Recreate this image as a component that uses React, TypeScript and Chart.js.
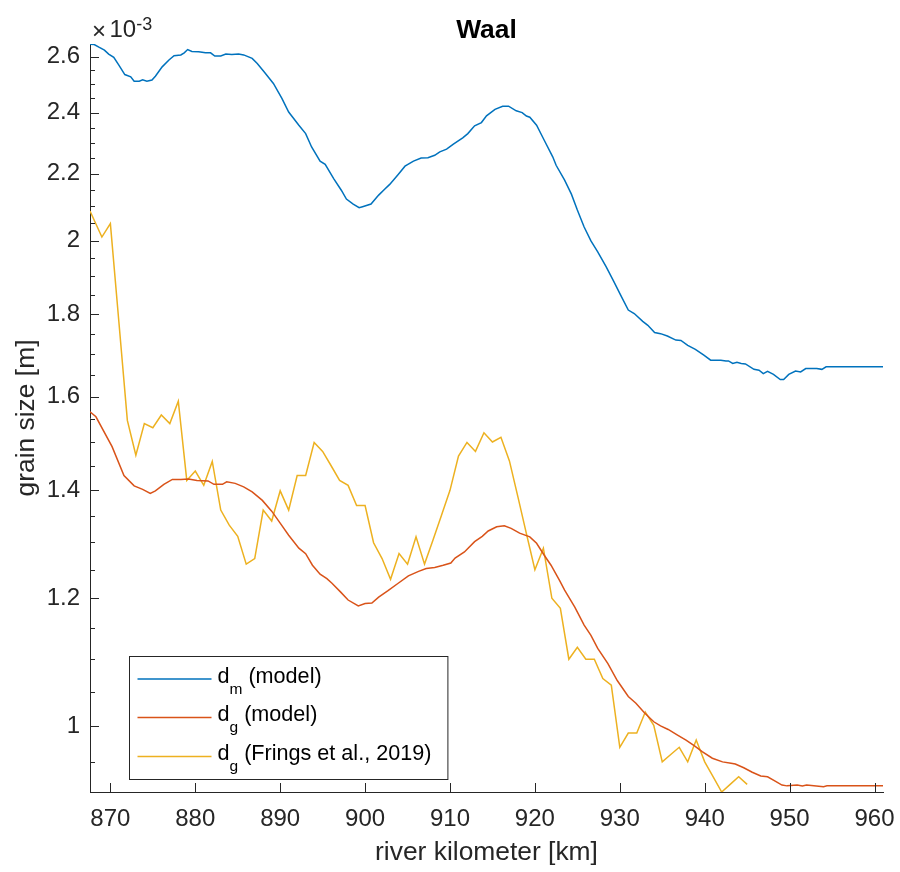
import { useEffect, useRef } from 'react';
import { Chart, registerables } from 'chart.js';

Chart.register(...registerables);

const FONT = '"Liberation Sans", Arial, Helvetica, sans-serif';
const TEXT = '#262626';
const AXIS = '#262626';
const BLUE = '#0072BD';
const RED = '#D95319';
const YELLOW = '#EDB120';

// x axis (river kilometer)
const xTicks = [870, 880, 890, 900, 910, 920, 930, 940, 950, 960];
const xMin = 867.6;
const xMax = 961;

// y axis (grain size, ×10^-3 m), logarithmic
const yMajorTicks = [1, 1.2, 1.4, 1.6, 1.8, 2, 2.2, 2.4, 2.6];
const yTickLabels = ['1', '1.2', '1.4', '1.6', '1.8', '2', '2.2', '2.4', '2.6'];
const yMinorTicks = [0.95, 1.05, 1.1, 1.15, 1.25, 1.3, 1.35, 1.45, 1.5, 1.55, 1.65, 1.7, 1.75, 1.85, 1.9, 1.95, 2.05, 2.1, 2.15, 2.25, 2.3, 2.35, 2.45, 2.5, 2.55];
const yMin = 0.91;
const yMax = 2.648;

// d_m (model)
const dmKm = [867.6, 868.1, 868.7, 869.3, 869.8, 870.4, 871.0, 871.7, 872.4, 872.8, 873.4, 873.8, 874.3, 874.9, 875.3, 876.1, 876.9, 877.5, 878.3, 878.7, 879.1, 879.6, 880.4, 881.2, 881.8, 882.3, 883.0, 883.6, 884.3, 885.1, 885.7, 886.7, 887.3, 888.1, 889.2, 890.2, 891.0, 892.2, 893.0, 893.7, 894.7, 895.3, 896.3, 897.2, 897.8, 898.6, 899.3, 899.7, 900.7, 901.6, 902.3, 902.9, 903.9, 904.7, 905.7, 906.6, 907.4, 908.2, 908.8, 909.6, 910.4, 911.5, 912.1, 912.9, 913.7, 914.3, 915.3, 916.2, 916.9, 917.8, 918.5, 919.0, 919.4, 920.2, 921.1, 922.1, 922.5, 923.5, 924.3, 925.0, 925.8, 926.6, 927.4, 928.4, 929.3, 930.1, 931.0, 931.7, 932.7, 933.3, 934.1, 934.8, 935.6, 936.6, 937.2, 938.0, 938.9, 939.9, 940.7, 941.9, 942.5, 942.8, 943.3, 943.8, 944.3, 944.8, 945.8, 946.4, 946.9, 947.4, 948.1, 948.9, 949.3, 949.9, 950.7, 951.3, 951.9, 953.2, 953.8, 954.3, 961.0];
const dmValues = [2.647, 2.646, 2.635, 2.625, 2.610, 2.598, 2.569, 2.535, 2.527, 2.511, 2.511, 2.516, 2.511, 2.515, 2.529, 2.563, 2.588, 2.604, 2.607, 2.615, 2.627, 2.620, 2.619, 2.615, 2.615, 2.603, 2.603, 2.610, 2.609, 2.610, 2.607, 2.594, 2.575, 2.545, 2.503, 2.450, 2.403, 2.358, 2.330, 2.286, 2.240, 2.230, 2.185, 2.149, 2.122, 2.107, 2.096, 2.099, 2.107, 2.134, 2.152, 2.167, 2.198, 2.224, 2.240, 2.250, 2.251, 2.259, 2.270, 2.279, 2.295, 2.316, 2.330, 2.356, 2.367, 2.390, 2.412, 2.423, 2.423, 2.407, 2.401, 2.389, 2.385, 2.358, 2.308, 2.254, 2.227, 2.180, 2.137, 2.089, 2.039, 1.999, 1.968, 1.926, 1.886, 1.850, 1.811, 1.802, 1.782, 1.772, 1.754, 1.751, 1.745, 1.735, 1.734, 1.722, 1.712, 1.698, 1.686, 1.686, 1.684, 1.684, 1.678, 1.681, 1.678, 1.677, 1.664, 1.662, 1.654, 1.659, 1.652, 1.640, 1.640, 1.652, 1.660, 1.658, 1.666, 1.666, 1.664, 1.670, 1.670];

// d_g (model)
const dgKm = [867.6, 868.3, 870.2, 871.6, 872.8, 873.8, 874.7, 875.3, 876.3, 877.3, 878.3, 879.2, 880.2, 881.5, 882.2, 883.2, 883.7, 884.7, 885.7, 886.7, 887.9, 889.0, 890.0, 891.0, 892.2, 893.0, 893.8, 894.7, 895.5, 896.1, 897.1, 898.0, 899.2, 900.0, 900.8, 901.6, 902.7, 903.9, 905.1, 906.3, 907.2, 908.2, 909.2, 910.1, 910.6, 911.7, 912.9, 913.8, 914.5, 915.5, 916.4, 917.2, 918.2, 919.4, 920.2, 921.1, 921.9, 922.9, 923.5, 924.7, 925.8, 926.6, 927.4, 928.6, 929.7, 931.0, 931.9, 932.9, 934.0, 934.8, 935.7, 936.8, 937.8, 938.8, 939.7, 940.9, 942.1, 943.1, 943.6, 944.6, 945.6, 946.6, 947.4, 948.2, 949.1, 949.7, 950.9, 951.5, 952.0, 954.0, 954.4, 961.0];
const dgValues = [1.566, 1.555, 1.490, 1.430, 1.409, 1.402, 1.394, 1.399, 1.412, 1.422, 1.422, 1.423, 1.420, 1.419, 1.412, 1.412, 1.417, 1.414, 1.407, 1.397, 1.380, 1.359, 1.336, 1.313, 1.289, 1.279, 1.258, 1.242, 1.234, 1.226, 1.211, 1.197, 1.187, 1.191, 1.192, 1.202, 1.213, 1.226, 1.239, 1.247, 1.252, 1.254, 1.258, 1.262, 1.271, 1.282, 1.301, 1.311, 1.321, 1.329, 1.331, 1.326, 1.317, 1.310, 1.298, 1.276, 1.258, 1.231, 1.214, 1.185, 1.155, 1.138, 1.117, 1.093, 1.067, 1.043, 1.033, 1.019, 1.006, 1.000, 0.995, 0.987, 0.980, 0.972, 0.964, 0.955, 0.950, 0.948, 0.947, 0.942, 0.936, 0.931, 0.930, 0.925, 0.919, 0.918, 0.919, 0.918, 0.919, 0.917, 0.918, 0.918];

// d_g (Frings et al., 2019)
const fringsKm = [867.6, 869, 870, 871, 872, 873, 874, 875, 876, 877, 878, 879, 880, 881, 882, 883, 884, 885, 886, 887, 888, 889, 890, 891, 892, 893, 894, 895, 896, 897, 898, 899, 900, 901, 902, 903, 904, 905, 906, 907, 908, 909, 910, 911, 912, 913, 914, 915, 916, 917, 918, 919, 920, 921, 922, 923, 924, 925, 926, 927, 928, 929, 930, 931, 932, 933, 934, 935, 936, 937, 938, 939, 940, 941, 942, 943, 944, 945];
const fringsValues = [2.086, 2.010, 2.049, 1.781, 1.547, 1.472, 1.540, 1.531, 1.559, 1.540, 1.590, 1.420, 1.439, 1.410, 1.459, 1.361, 1.332, 1.311, 1.260, 1.270, 1.361, 1.340, 1.399, 1.361, 1.430, 1.430, 1.499, 1.480, 1.450, 1.420, 1.410, 1.370, 1.370, 1.299, 1.270, 1.233, 1.279, 1.260, 1.310, 1.260, 1.304, 1.351, 1.400, 1.470, 1.499, 1.480, 1.520, 1.500, 1.510, 1.460, 1.387, 1.316, 1.250, 1.289, 1.200, 1.183, 1.100, 1.119, 1.100, 1.100, 1.070, 1.060, 0.970, 0.990, 0.990, 1.020, 1.001, 0.950, 0.960, 0.970, 0.950, 0.980, 0.950, 0.930, 0.910, 0.920, 0.930, 0.920];

const chartTitle = 'Waal';
const xTitle = 'river kilometer [km]';
const yTitle = 'grain size [m]';
const legendMain = ['d', 'd', 'd'];
const legendSub = ['m', 'g', 'g'];
const legendRest = [' (model)', ' (model)', ' (Frings et al., 2019)'];
const legendColors = [BLUE, RED, YELLOW];

const toPoints = (xs: number[], ys: number[]) => xs.map((x, i) => ({ x, y: ys[i] }));

const decorPlugin = {
  id: 'decor',
  afterDraw(chart: any) {
    const { ctx, chartArea: a, scales } = chart;
    const xs = scales.x;
    const ys = scales.y;
    ctx.save();
    // inward ticks
    ctx.strokeStyle = AXIS;
    ctx.lineWidth = 1;
    ctx.beginPath();
    xTicks.forEach((v) => {
      const p = Math.round(xs.getPixelForValue(v)) + 0.5;
      ctx.moveTo(p, a.bottom);
      ctx.lineTo(p, a.bottom - 9);
    });
    yMajorTicks.forEach((v) => {
      const p = Math.round(ys.getPixelForValue(v)) + 0.5;
      ctx.moveTo(a.left, p);
      ctx.lineTo(a.left + 9, p);
    });
    yMinorTicks.forEach((v) => {
      const p = Math.round(ys.getPixelForValue(v)) + 0.5;
      ctx.moveTo(a.left, p);
      ctx.lineTo(a.left + 5, p);
    });
    ctx.stroke();

    // title
    ctx.fillStyle = '#000';
    ctx.font = `bold 26.4px ${FONT}`;
    ctx.textAlign = 'center';
    ctx.textBaseline = 'alphabetic';
    ctx.fillText(chartTitle, (a.left + a.right) / 2, 37.7);

    // exponent ×10^-3
    ctx.fillStyle = TEXT;
    ctx.textAlign = 'left';
    ctx.font = `24px ${FONT}`;
    ctx.fillText('\u00d7', a.left + 2, 39);
    ctx.fillText('10', a.left + 19.5, 37.3);
    const ex = a.left + 19.5 + ctx.measureText('10').width;
    ctx.font = `18px ${FONT}`;
    ctx.fillText('-3', ex, 29.5);

    // legend
    const bw = 318.4;
    const bh = 123.3;
    const bx = Math.round(a.left + 38.6) + 0.5;
    const by = Math.round(a.bottom - 12.7 - bh) + 0.5;
    ctx.fillStyle = '#fff';
    ctx.fillRect(bx, by, bw, bh);
    ctx.strokeStyle = AXIS;
    ctx.lineWidth = 1;
    ctx.strokeRect(bx, by, bw, Math.round(bh));
    const rows = [22.6, 61, 100];
    for (let i = 0; i < 3; i++) {
      const ly = by + rows[i];
      ctx.strokeStyle = legendColors[i];
      ctx.lineWidth = 1.5;
      ctx.beginPath();
      ctx.moveTo(bx + 8, ly);
      ctx.lineTo(bx + 82, ly);
      ctx.stroke();
      let tx = bx + 88;
      const base = ly + 3.4;
      ctx.fillStyle = '#000';
      ctx.font = `21.6px ${FONT}`;
      ctx.fillText(legendMain[i], tx, base);
      tx += ctx.measureText(legendMain[i]).width;
      ctx.font = `15.5px ${FONT}`;
      ctx.fillText(legendSub[i], tx, base + 11);
      tx += ctx.measureText(legendSub[i]).width;
      ctx.font = `21.6px ${FONT}`;
      ctx.fillText(legendRest[i], tx, base);
    }
    ctx.restore();
  },
};

export default function App() {
  const ref = useRef<HTMLCanvasElement | null>(null);
  useEffect(() => {
    document.body.style.margin = '0';
    const canvas = ref.current;
    if (!canvas) return;
    const chart = new Chart(canvas, {
      type: 'line',
      data: {
        datasets: [
          { label: 'dm (model)', data: toPoints(dmKm, dmValues), borderColor: BLUE, borderWidth: 1.5, pointRadius: 0, fill: false },
          { label: 'dg (model)', data: toPoints(dgKm, dgValues), borderColor: RED, borderWidth: 1.5, pointRadius: 0, fill: false },
          { label: 'dg (Frings et al., 2019)', data: toPoints(fringsKm, fringsValues), borderColor: YELLOW, borderWidth: 1.5, pointRadius: 0, fill: false },
        ],
      },
      options: {
        responsive: false,
        animation: false,
        devicePixelRatio: 1,
        layout: { padding: { top: 44, right: 17, bottom: 0, left: 0 } },
        plugins: { legend: { display: false }, title: { display: false }, tooltip: { enabled: false } },
        elements: { line: { tension: 0 }, point: { radius: 0 } },
        scales: {
          x: {
            type: 'linear',
            min: xMin,
            max: xMax,
            afterBuildTicks: (s: any) => { s.ticks = xTicks.map((v) => ({ value: v })); },
            afterFit: (s: any) => { s.height = 80; s.paddingLeft = 0; s.paddingRight = 0; },
            grid: { display: false },
            border: { display: true, color: AXIS, width: 1 },
            ticks: { autoSkip: false, maxRotation: 0, padding: 5, color: TEXT, font: { family: FONT, size: 24 }, callback: (v: any) => String(v) },
            title: { display: true, text: xTitle, color: TEXT, font: { family: FONT, size: 26.4 }, padding: { top: 0, bottom: 3 } },
          },
          y: {
            type: 'logarithmic',
            min: yMin,
            max: yMax,
            afterBuildTicks: (s: any) => {
              const all = [...yMajorTicks, ...yMinorTicks].sort((p, q) => p - q);
              s.ticks = all.map((v) => ({ value: v }));
            },
            afterFit: (s: any) => { s.width = 90; s.paddingTop = 0; s.paddingBottom = 0; },
            grid: { display: false },
            border: { display: true, color: AXIS, width: 1 },
            ticks: {
              autoSkip: false,
              padding: 2,
              color: TEXT,
              font: { family: FONT, size: 24 },
              callback: (v: any) => {
                const i = yMajorTicks.findIndex((m) => Math.abs(m - Number(v)) < 1e-9);
                return i >= 0 ? yTickLabels[i] : '';
              },
            },
            title: { display: true, text: yTitle, color: TEXT, font: { family: FONT, size: 26.4 }, padding: { top: 11, bottom: 0 } },
          },
        },
      },
      plugins: [decorPlugin],
    } as any);
    return () => chart.destroy();
  }, []);
  return <canvas ref={ref} width={900} height={872} style={{ display: 'block' }} />;
}
